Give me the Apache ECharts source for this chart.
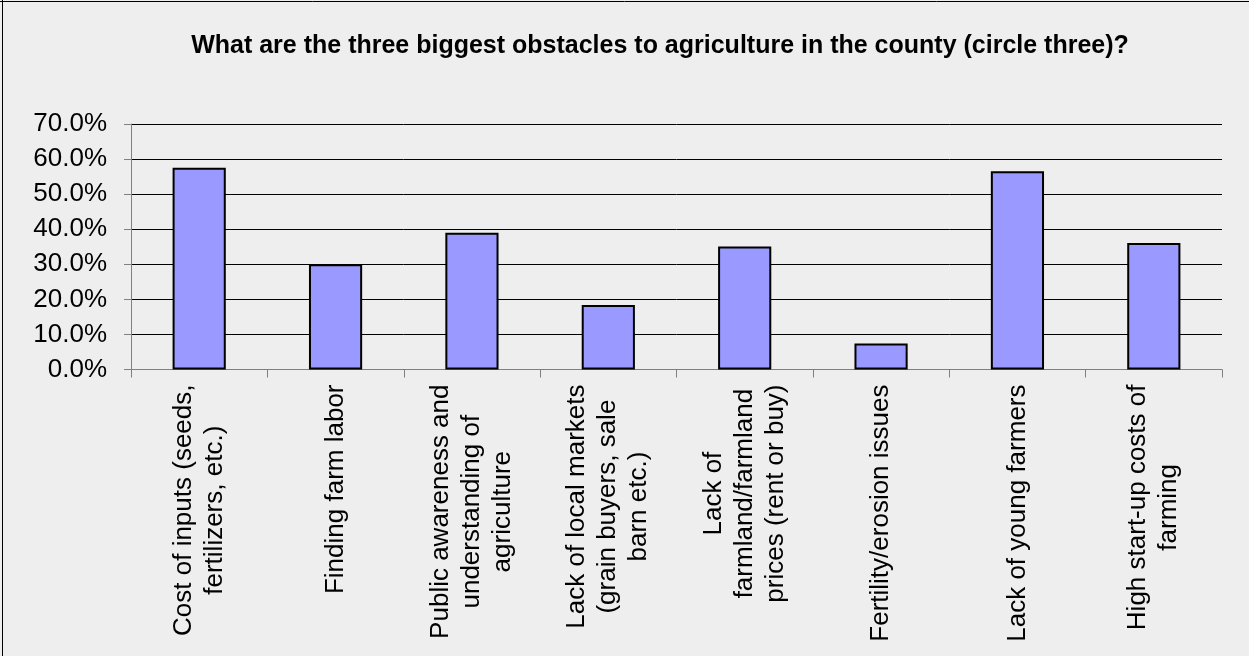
<!DOCTYPE html>
<html>
<head>
<meta charset="utf-8">
<script src="https://cdn.jsdelivr.net/npm/echarts@6/dist/echarts.min.js"></script>
<style>
html,body{margin:0;padding:0;background:#eeeeee;}
#chart{width:1249px;height:656px;}
</style>
</head>
<body>
<div id="chart"></div>
<script>
const titleText = 'What are the three biggest obstacles to agriculture in the county (circle three)?';
const categories = [
  'Cost of inputs (seeds,\nfertilizers, etc.)',
  'Finding farm labor',
  'Public awareness and\nunderstanding of\nagriculture',
  'Lack of local markets\n(grain buyers, sale\nbarn etc.)',
  'Lack of\nfarmland/farmland\nprices (rent or buy)',
  'Fertility/erosion issues',
  'Lack of young farmers',
  'High start-up costs of\nfarming'
];
const values = [57.5, 30.0, 39.0, 18.4, 35.1, 7.4, 56.5, 36.1];
const yTicks = [0, 10, 20, 30, 40, 50, 60, 70];

const chart = echarts.init(document.getElementById('chart'), null, {renderer: 'canvas'});
chart.setOption({
  backgroundColor: '#eeeeee',
  animation: false,
  title: {
    text: titleText,
    left: 655,
    top: 29,
    textAlign: 'center',
    textStyle: {fontFamily: 'Arial', fontSize: 25, fontWeight: 'bold', color: '#000'}
  },
  graphic: [
    {type: 'line', shape: {x1: 0, y1: 1.5, x2: 1249, y2: 1.5}, style: {stroke: '#000', lineWidth: 1}},
    {type: 'line', shape: {x1: 2.5, y1: 0, x2: 2.5, y2: 656}, style: {stroke: '#000', lineWidth: 1}}
  ],
  grid: {left: 131, right: 27, top: 124, bottom: 286.5, containLabel: false},
  xAxis: {
    type: 'category',
    data: categories,
    boundaryGap: true,
    axisLine: {lineStyle: {color: '#808080', width: 1}},
    axisTick: {show: true, length: 8, alignWithLabel: false, lineStyle: {color: '#808080'}},
    axisLabel: {
      interval: 0,
      rotate: 90,
      margin: 15,
      hideOverlap: false,
      color: '#000',
      fontFamily: 'Arial',
      fontSize: 26,
      lineHeight: 31,
      formatter: function (v) {
        return v.split('\n').map(function (l) { return '{c|' + l + '}'; }).join('\n');
      },
      rich: {c: {align: 'center', fontFamily: 'Arial', fontSize: 26, lineHeight: 31, color: '#000'}}
    }
  },
  yAxis: {
    type: 'value',
    min: yTicks[0],
    max: yTicks[yTicks.length - 1],
    interval: 10,
    axisLine: {show: true, lineStyle: {color: '#808080', width: 1}},
    axisTick: {show: true, length: 7, lineStyle: {color: '#808080'}},
    splitLine: {show: true, lineStyle: {color: '#000', width: 1}},
    axisLabel: {
      margin: 24,
      color: '#000',
      fontFamily: 'Arial',
      fontSize: 26,
      formatter: function (v) { return v.toFixed(1) + '%'; }
    }
  },
  series: [{
    type: 'bar',
    data: values,
    barWidth: '39%',
    itemStyle: {color: '#9999ff', borderColor: '#000', borderWidth: 2}
  }]
});
</script>
</body>
</html>
